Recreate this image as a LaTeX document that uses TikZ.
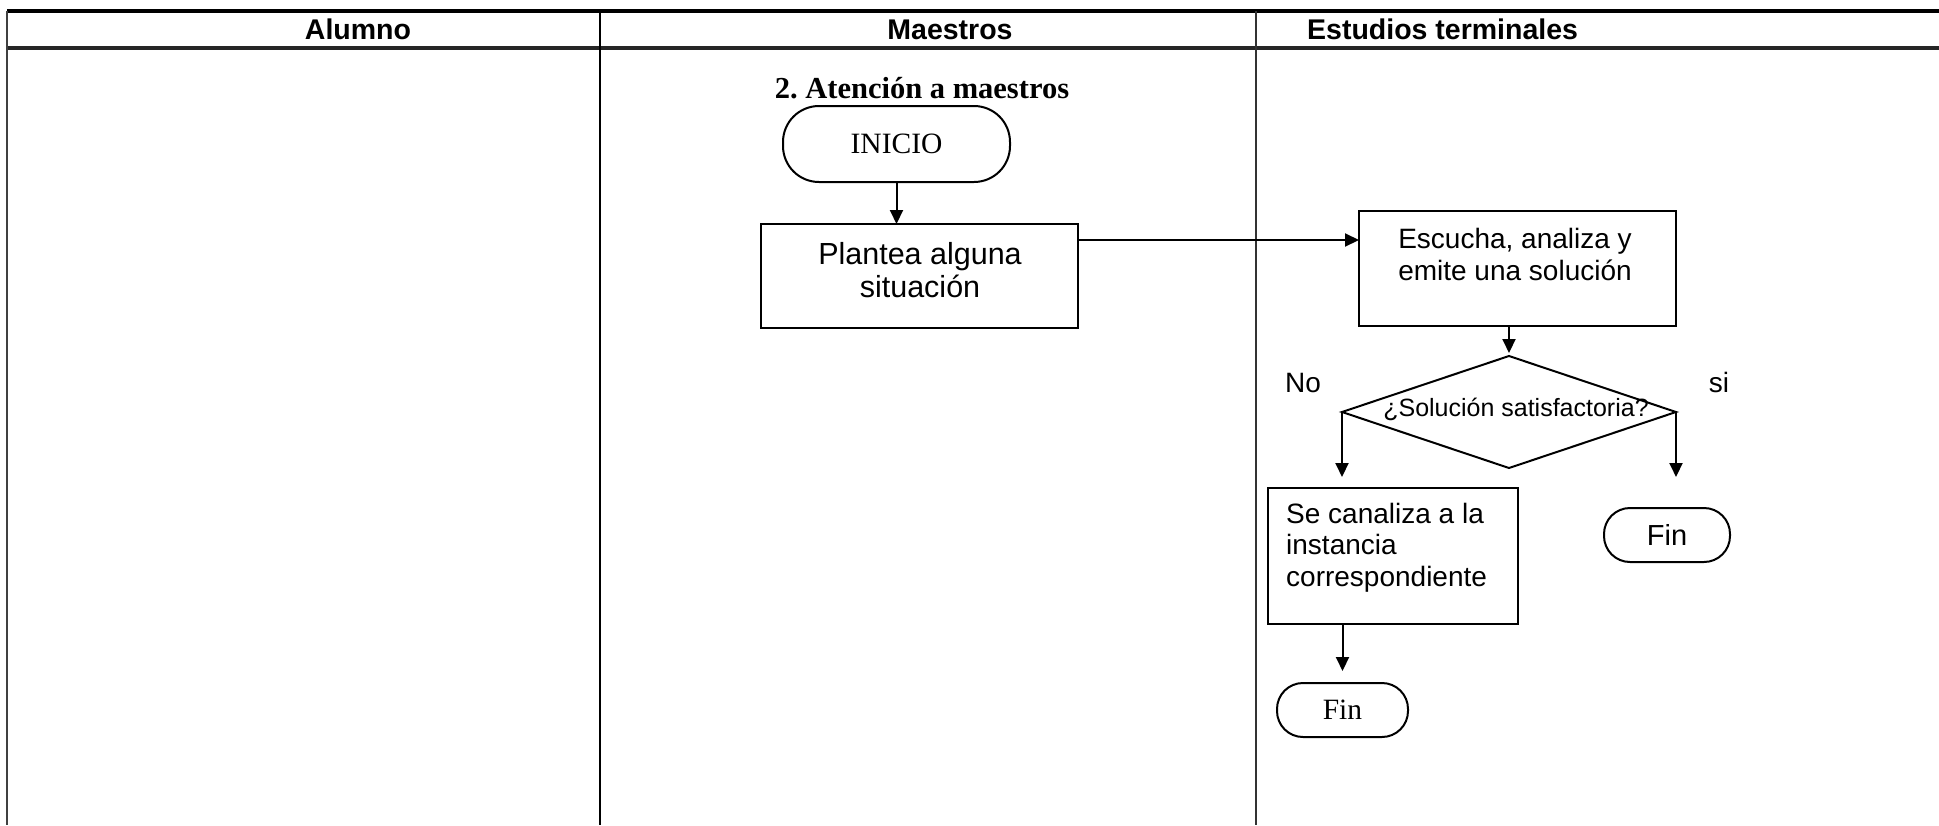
\documentclass[tikz,border=0pt]{standalone}
\usepackage{fontspec}
\setmainfont{Liberation Serif}
\setsansfont{Liberation Sans}
\usetikzlibrary{arrows.meta,shapes.geometric}

\begin{document}
\begin{tikzpicture}[x=1pt,y=-1pt,
  box/.style={draw, line width=2pt, inner sep=0pt, outer sep=0pt},
  term/.style={draw, line width=2pt, rounded corners=26pt, inner sep=0pt, outer sep=0pt},
  flow/.style={line width=2pt, -{Triangle[length=14pt,width=13pt]}},
  txt/.style={inner sep=0pt, font=\sffamily\fontsize{28}{32}\selectfont},
  head/.style={inner sep=0pt, anchor=base, font=\sffamily\bfseries\fontsize{28.5}{33}\selectfont},
]
\useasboundingbox (0,0) rectangle (1939,825);

% lane grid
\draw[line width=3.4pt] (7,11) -- (1939,11);
\draw[line width=3.4pt, black!85] (7,48) -- (1939,48);
\draw[line width=2.4pt, black!75] (7,11) -- (7,825);
\draw[line width=2.4pt] (600,11) -- (600,825);
\draw[line width=2.1pt, black!80] (1256,11) -- (1256,825);

% lane titles
\node[head] (hAlumno) at (358,39) {Alumno};
\node[head] (hMaestros) at (950,39) {Maestros};
\node[head, anchor=base west] (hEstudios) at (1307,39) {Estudios terminales};

% procedure title
\node[inner sep=0pt, anchor=base, font=\bfseries\fontsize{30.5}{34}\selectfont] (titulo) at (922,98) {2.\ Atención a maestros};

% shapes
\node[term, rounded corners=36pt, minimum width=227pt, minimum height=76pt,
      font=\fontsize{29.5}{34}\selectfont] (inicio) at (896.5,144) {INICIO};
\node[box, minimum width=317pt, minimum height=104pt] (plantea) at (919.5,276) {};
\node[box, minimum width=317pt, minimum height=115pt] (escucha) at (1517.5,268.5) {};
\node[diamond, draw, line width=2pt, minimum width=334pt, minimum height=112pt,
      inner sep=0pt, outer sep=0pt] (dia) at (1509,412) {};
\node[box, minimum width=250pt, minimum height=136pt] (canal) at (1393,556) {};
\node[term, minimum width=126pt, minimum height=54pt,
      font=\sffamily\fontsize{29}{33}\selectfont] (finR) at (1667,535) {Fin};
\node[term, minimum width=131pt, minimum height=54pt,
      font=\fontsize{29.5}{34}\selectfont] (finB) at (1342.5,710) {Fin};

% texts inside the shapes (base anchor = baseline of the last line)
\node[txt, anchor=base, align=center, font=\sffamily\fontsize{30.5}{33}\selectfont] (tPlantea) at (920,297) {Plantea alguna\\situación};
\node[txt, anchor=base, align=center] (tEscucha) at (1515,280) {Escucha, analiza y\\emite una solución};
\node[txt, anchor=base, font=\sffamily\fontsize{25}{29}\selectfont] (tDia) at (1516,416) {¿Solución satisfactoria?};
\node[txt, anchor=base west, align=left, font=\sffamily\fontsize{28}{31.5}\selectfont] (tCanal) at (1286,586) {Se canaliza a la\\instancia\\correspondiente};
\node[txt, anchor=base] (lNo) at (1303,392) {No};
\node[txt, anchor=base] (lSi) at (1719,392) {si};

% connectors
\draw[flow] (inicio.south) -- (inicio.south |- plantea.north);
\coordinate (pOut) at ([yshift=-16pt]plantea.north east);
\draw[flow] (pOut) -- (escucha.west |- pOut);
\draw[flow] (escucha.south -| dia.north) -- ([yshift=3pt]dia.north);
\coordinate (noEnd) at ([yshift=11pt]canal.north -| dia.west);
\draw[flow] (dia.west) -- (noEnd);
\coordinate (siEnd) at ([yshift=31pt]finR.north -| dia.east);
\draw[flow] (dia.east) -- (siEnd);
\draw[flow] (canal.south -| finB.north) -- ([yshift=12pt]finB.north);
\end{tikzpicture}
\end{document}
